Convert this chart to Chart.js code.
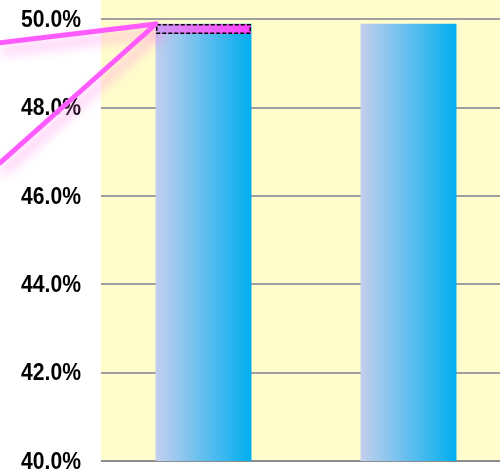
<!DOCTYPE html>
<html>
<head>
<meta charset="utf-8">
<script src="https://cdn.jsdelivr.net/npm/chart.js@4.4.1/dist/chart.umd.min.js"></script>
<style>
  html, body { margin: 0; padding: 0; background: #ffffff; overflow: hidden; }
  #wrap { position: relative; width: 511px; height: 472px; }
</style>
</head>
<body>
<div id="wrap"><canvas id="c"></canvas></div>
<script>
// ---- data ----
const categories = ['A', 'B'];
const values = [49.9, 49.9];
const tickValues = [40, 42, 44, 46, 48, 50];
const axisMin = 40;
const axisMax = 50.44;
// highlighted slice on top of first bar (percent values)
const highlightIndex = 0;
const highlightTop = 49.9;
const highlightBottom = 49.68;
// callout lines: end on the left canvas edge at these axis values
const calloutEnds = [49.47, 46.75];

const BAR_PCT = 0.468;

function barGradient(ctx) {
  const chart = ctx.chart;
  const xs = chart.scales.x;
  if (!xs || !chart.chartArea) return '#60c0f0';
  const cx = xs.getPixelForValue(ctx.dataIndex);
  const half = xs.width / categories.length * BAR_PCT / 2;
  const g = chart.ctx.createLinearGradient(cx - half, 0, cx + half, 0);
  g.addColorStop(0, '#C4CFEE');
  g.addColorStop(1, '#00AEEF');
  return g;
}

const bgPlugin = {
  id: 'bg',
  beforeDraw(chart) {
    const { ctx, chartArea: a } = chart;
    ctx.save();
    ctx.fillStyle = '#FFFDCC';
    ctx.fillRect(a.left, a.top, a.right - a.left, a.bottom - a.top);
    ctx.restore();
  }
};

const labelPlugin = {
  id: 'ylabels',
  afterDraw(chart) {
    const { ctx } = chart;
    const ys = chart.scales.y;
    ctx.save();
    ctx.fillStyle = '#000';
    ctx.font = 'bold 24px "Liberation Sans", Arial, sans-serif';
    ctx.textAlign = 'right';
    ctx.textBaseline = 'middle';
    tickValues.forEach(v => {
      const y = ys.getPixelForValue(v);
      ctx.save();
      ctx.translate(ys.right - 20, y + 1);
      ctx.scale(0.88, 1);
      ctx.fillText(v.toFixed(1) + '%', 0, 0);
      ctx.restore();
    });
    ctx.restore();
  }
};

const calloutPlugin = {
  id: 'callout',
  afterDraw(chart) {
    const { ctx } = chart;
    const xs = chart.scales.x, ys = chart.scales.y;
    const cx = xs.getPixelForValue(highlightIndex);
    const half = xs.width / categories.length * BAR_PCT / 2;
    const left = Math.round(cx - half), right = Math.round(cx + half);
    const top = Math.round(ys.getPixelForValue(highlightTop));
    const bot = Math.round(ys.getPixelForValue(highlightBottom));

    const drawLines = () => {
      calloutEnds.forEach(v => {
        ctx.beginPath();
        ctx.moveTo(left, top);
        ctx.lineTo(0, ys.getPixelForValue(v));
        ctx.stroke();
      });
    };

    // glow shadows of lines
    ctx.save();
    ctx.strokeStyle = 'rgba(255,92,255,1)';
    ctx.lineWidth = 5;
    ctx.lineCap = 'round';
    ctx.shadowColor = 'rgba(255,110,230,0.6)';
    ctx.shadowBlur = 12;
    ctx.shadowOffsetX = 4;
    ctx.shadowOffsetY = 8;
    drawLines();
    ctx.restore();

    // highlighted box
    ctx.save();
    const g = ctx.createLinearGradient(left, 0, right, 0);
    g.addColorStop(0, '#C79EF4');
    g.addColorStop(0.3, '#E27CF8');
    g.addColorStop(1, '#FF40FF');
    ctx.fillStyle = g;
    ctx.fillRect(left, top, right - left, bot - top);
    ctx.setLineDash([4, 2]);
    ctx.lineWidth = 1.5;
    ctx.strokeStyle = '#000';
    ctx.strokeRect(left + 0.75, top + 0.75, right - left - 1.5, bot - top - 1.5);
    ctx.restore();

    // crisp lines
    ctx.save();
    ctx.strokeStyle = '#FF5CFF';
    ctx.lineWidth = 3.5;
    ctx.lineCap = 'round';
    drawLines();
    ctx.restore();
  }
};

new Chart(document.getElementById('c'), {
  type: 'bar',
  data: {
    labels: categories,
    datasets: [{
      data: values,
      backgroundColor: barGradient,
      borderWidth: 0,
      barPercentage: BAR_PCT,
      categoryPercentage: 1
    }]
  },
  options: {
    responsive: true,
    maintainAspectRatio: false,
    animation: false,
    layout: { padding: { left: 0, right: 0, top: 0, bottom: 11 } },
    plugins: { legend: { display: false }, tooltip: { enabled: false } },
    scales: {
      x: {
        display: false,
        grid: { display: false }
      },
      y: {
        min: axisMin,
        max: axisMax,
        afterBuildTicks(s) { s.ticks = tickValues.map(v => ({ value: v })); },
        afterFit(s) { s.width = 101; s.paddingTop = 0; s.paddingBottom = 0; },
        border: { display: false },
        grid: {
          drawTicks: false,
          lineWidth: 2,
          color: c => c.tick && c.tick.value === axisMin ? '#8C8C8C' : '#A0A0A0'
        },
        ticks: { display: false }
      }
    }
  },
  plugins: [bgPlugin, labelPlugin, calloutPlugin]
});
</script>
</body>
</html>
